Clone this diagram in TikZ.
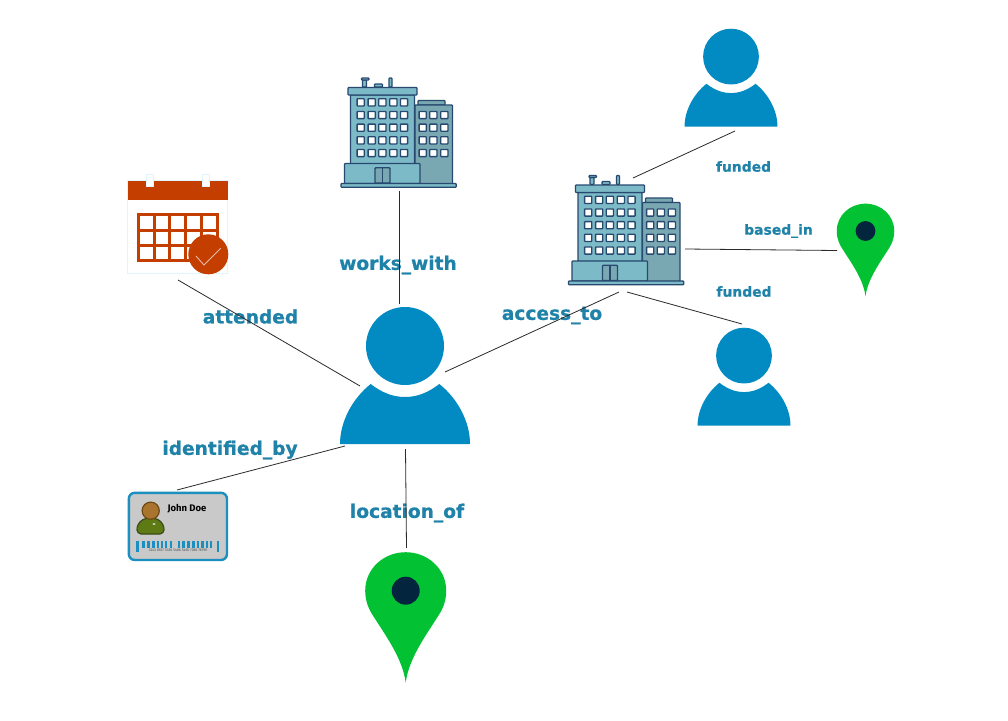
\documentclass[tikz,border=0pt]{standalone}
\usepackage{fontspec}
\setmainfont{DejaVu Sans}
\newfontfamily\labelfont[FakeBold=0.7]{DejaVu Sans Bold}
\newfontfamily\cardfont{Fira Sans}
\definecolor{personblue}{HTML}{028AC2}
\definecolor{pingreen}{HTML}{02C233}
\definecolor{pinhole}{HTML}{03263E}
\definecolor{labelblue}{HTML}{1F82A8}
\definecolor{bldteal}{HTML}{7CBAC8}
\definecolor{bldgrey}{HTML}{79A8B2}
\definecolor{bldline}{HTML}{27496F}
\definecolor{calred}{HTML}{C43E00}
\definecolor{linegrey}{HTML}{2A2A2A}
\definecolor{cardblue}{HTML}{1A8FC0}
\definecolor{cardhead}{HTML}{A8742E}
\definecolor{cardheadline}{HTML}{6E4A14}
\definecolor{cardbody}{HTML}{5E7A14}
\definecolor{cardbodyline}{HTML}{3A4A18}
\tikzset{
  conn/.style={draw=linegrey,line width=0.8pt},
  biglabel/.style={text=labelblue,font=\labelfont\fontsize{18.6}{19}\selectfont,inner sep=0pt},
  smalllabel/.style={text=labelblue,font=\labelfont\fontsize{13.9}{14}\selectfont,inner sep=0pt},
  bld/.style={draw=bldline,line width=1.3pt,rounded corners=0.8pt},
  win/.style={draw=bldline,fill=white,line width=1.3pt,rounded corners=0.6pt},
}
\newcommand{\personicon}[3]{%
  \begin{scope}[shift={(#1,#2)},scale=#3]
    \fill[personblue] (0,0) circle[radius=39];
    \fill[personblue] (-65,98) .. controls (-65,75) and (-52,52) .. (-34.3,38)
      .. controls (-24,46) and (-13,51) .. (0,51)
      .. controls (13,51) and (24,46) .. (34.3,38)
      .. controls (52,52) and (65,75) .. (65,98) -- cycle;
  \end{scope}}
\newcommand{\pinicon}[3]{%
  \begin{scope}[shift={(#1,#2)},scale=#3]
    \fill[pingreen] (0,92) .. controls (-3,68) and (-20,45) .. (-32,26)
      .. controls (-36,20) and (-40.5,12) .. (-40.5,0)
      .. controls (-40.5,-22) and (-22,-38.5) .. (0,-38.5)
      .. controls (22,-38.5) and (40.5,-22) .. (40.5,0)
      .. controls (40.5,12) and (36,20) .. (32,26)
      .. controls (20,45) and (3,68) .. (0,92) -- cycle;
    \fill[pinhole] (0,0) circle[radius=14];
  \end{scope}}
\newcommand{\bldicon}[2]{%
  \begin{scope}[shift={(#1,#2)}]
    % rooftop details
    \filldraw[bld,fill=bldteal] (362.5,80) rectangle (366.5,87);
    \filldraw[bld,fill=bldteal] (361.5,78) rectangle (369,80);
    \filldraw[bld,fill=bldteal] (374.5,87) -- (374.5,84) -- (382.5,84) -- (382.5,87) -- cycle;
    \filldraw[bld,fill=bldteal] (389,78) rectangle (392,87);
    % right block
    \filldraw[bld,fill=bldgrey] (418,105) -- (418,100.5) -- (445,100.5) -- (445,105) -- cycle;
    \filldraw[bld,fill=bldgrey] (415,105) rectangle (452.5,184);
    % main tower
    \filldraw[bld,fill=bldteal] (350.5,95) rectangle (414.5,164);
    \filldraw[bld,fill=bldteal] (348,87.5) rectangle (417,95);
    % lobby
    \filldraw[bld,fill=bldteal] (344.5,163.5) rectangle (420,183.5);
    \filldraw[bld,fill=bldgrey] (375,167.8) rectangle (390,183);
    \draw[bldline,line width=1.3pt] (382.5,167.8) -- (382.5,183);
    % foot
    \filldraw[bld,fill=bldteal] (341,183.5) rectangle (456.2,187.3);
    % windows
    \foreach \wy in {102.3,115,127.7,140.3,153}{
      \foreach \wx in {360.7,371.7,382.3,393.3,404}{
        \filldraw[win] (\wx-3.6,\wy-3.6) rectangle (\wx+3.6,\wy+3.6);
      }
    }
    \foreach \wy in {115,127.7,140.3,153}{
      \foreach \wx in {422.7,433.3,444.3}{
        \filldraw[win] (\wx-3.6,\wy-3.6) rectangle (\wx+3.6,\wy+3.6);
      }
    }
  \end{scope}}
\begin{document}
\begin{tikzpicture}[x=1pt,y=-1pt]
\useasboundingbox (0,0) rectangle (1008,720);
\fill[white] (0,0) rectangle (1008,720);

% labels
\node[biglabel] (lworks) at (398,265) {works\_with};
\node[biglabel] (lattended) at (250.5,316.5) {attended};
\node[biglabel] (laccess) at (552,315.5) {access\_to};
\node[biglabel] (lident) at (230,450) {identified\_by};
\node[biglabel] (lloc) at (407,513) {location\_of};
\node[smalllabel] (lfund1) at (743.5,166.5) {funded};
\node[smalllabel] (lbased) at (778.5,231) {based\_in};
\node[smalllabel] (lfund2) at (744,291.5) {funded};

% persons
\personicon{405}{346}{1}
\personicon{731}{56.6}{0.715}
\personicon{744}{355.6}{0.715}

% pins
\pinicon{405.7}{590.7}{1}
\pinicon{865.5}{231}{0.71}

% buildings
\bldicon{0}{0}
\bldicon{227.5}{97.5}

% calendar
\filldraw[draw=cyan!12,fill=white,line width=0.6pt] (127.5,180) rectangle (227.5,273.5);
\fill[calred] (127.5,180.5) rectangle (227.5,200);
\filldraw[draw=cyan!12,fill=white,line width=0.5pt] (146.2,174.5) rectangle (153,186);
\filldraw[draw=cyan!12,fill=white,line width=0.5pt] (201.8,174.5) rectangle (208.8,186);
\foreach \cx in {0,1,2,3,4}{
  \foreach \cy in {0,1,2}{
    \draw[calred,line width=2.9pt,fill=white] (138.3+\cx*15.8,214.9+\cy*15.3) rectangle +(15.8,15.3);
  }
}
\fill[calred] (208.3,254.3) circle[radius=20];
\draw[draw=calred!35!white,line width=0.9pt] (196,256) -- (204,265) -- (220.7,248.3);

% id card
\filldraw[draw=cardblue,fill=black!21,line width=2.4pt,rounded corners=6pt] (128.8,492.8) rectangle (227,560);
\filldraw[draw=cardbodyline,fill=cardbody,line width=1.2pt] (141,534) .. controls (136,533) and (136.5,528) .. (138,525) .. controls (140,520) and (145,518) .. (150.5,518) .. controls (156,518) and (161,520) .. (163,525) .. controls (164.5,528) and (165,533) .. (160,534) -- cycle;
\filldraw[draw=cardheadline,fill=cardhead,line width=1.2pt] (150.7,510.7) circle[radius=8.6];
\fill[white!85!cardbody] (154,524) ellipse[x radius=1.6,y radius=0.9];
\node[inner sep=0pt,font=\cardfont\fontsize{9.5}{10}\selectfont\bfseries] (cardname) at (187,508.5) {John Doe};
\foreach \bx/\bw in {141.5/3,146.5/3,152/3,157/1.5,160.5/2,165/1.5,170/2,178/2,182/3,187/3,192/3,197/2,201/3,205.5/2,210/1.5}{
  \fill[cardblue] (\bx,540.7) rectangle +(\bw,6.8);
}
\fill[cardblue] (136,540.7) rectangle (138.5,551.7);
\fill[cardblue] (216.5,540.7) rectangle (219,551.7);
\node[inner sep=0pt,text=black!70,font=\cardfont\fontsize{3.6}{4}\selectfont] (cardnum) at (178,550) {3243 0557 5336 5406 5465 7065 76799};

% connector ends
\coordinate (a1) at (178,280);  \coordinate (a2) at (360,386);
\coordinate (b1) at (399.5,191);\coordinate (b2) at (399.5,304);
\coordinate (c1) at (445,372);  \coordinate (c2) at (619,292);
\coordinate (d1) at (345,446);  \coordinate (d2) at (177,490);
\coordinate (e1) at (405.5,449);\coordinate (e2) at (406.5,548);
\coordinate (f1) at (735,131);  \coordinate (f2) at (633,178);
\coordinate (g1) at (685,249);  \coordinate (g2) at (837,250.5);
\coordinate (h1) at (627,292);  \coordinate (h2) at (742,324);
\draw[conn] (a1) -- (a2);
\draw[conn] (b1) -- (b2);
\draw[conn] (c1) -- (c2);
\draw[conn] (d1) -- (d2);
\draw[conn] (e1) -- (e2);
\draw[conn] (f1) -- (f2);
\draw[conn] (g1) -- (g2);
\draw[conn] (h1) -- (h2);
\end{tikzpicture}
\end{document}
